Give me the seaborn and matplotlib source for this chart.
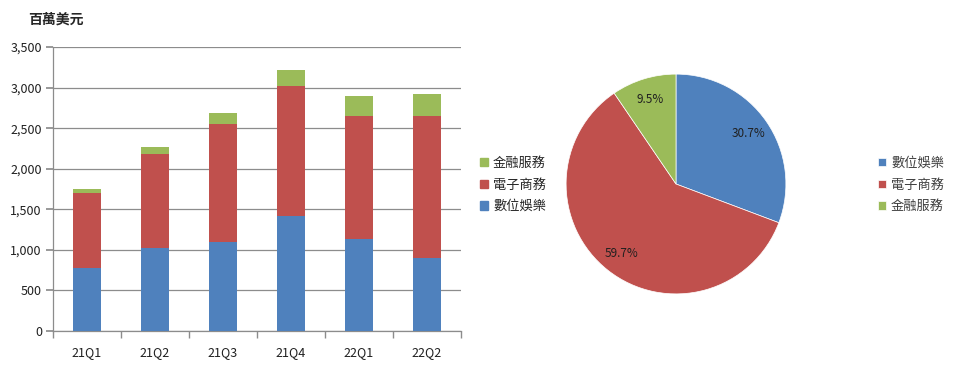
import matplotlib
matplotlib.use("Agg")
import matplotlib.pyplot as plt
import seaborn as sns
import numpy as np
import pandas as pd
from matplotlib.patches import Patch

quarters = ["21Q1", "21Q2", "21Q3", "21Q4", "22Q1", "22Q2"]
digital_ent = [780, 1027, 1101, 1421, 1138, 898]
ecommerce = [921, 1155, 1450, 1595, 1512, 1746]
fin_services = [49, 86, 132, 197, 242, 278]

pie_labels = ["數位娛樂", "電子商務", "金融服務"]
pie_values = [30.7, 59.7, 9.5]

unit_label = "百萬美元"
y_ticks = [0, 500, 1000, 1500, 2000, 2500, 3000, 3500]

sns.set_theme(style="white")
plt.rcParams["font.family"] = ["Noto Sans CJK TC", "DejaVu Sans"]

c_blue = "#4F81BD"
c_red = "#C0504D"
c_green = "#9BBB59"

df = pd.DataFrame({"q": quarters, "blue": digital_ent, "red": ecommerce, "green": fin_services})
df["lvl2"] = df["blue"] + df["red"]
df["lvl3"] = df["lvl2"] + df["green"]

W, H = 960, 365
fig = plt.figure(figsize=(W / 100, H / 100), dpi=100)

ax = fig.add_axes([53 / W, (H - 331) / H, 408 / W, 284 / H])
sns.barplot(data=df, x="q", y="lvl3", color=c_green, width=0.4, saturation=1, ax=ax, edgecolor="none", zorder=3)
sns.barplot(data=df, x="q", y="lvl2", color=c_red, width=0.4, saturation=1, ax=ax, edgecolor="none", zorder=3)
sns.barplot(data=df, x="q", y="blue", color=c_blue, width=0.4, saturation=1, ax=ax, edgecolor="none", zorder=3)

ax.set_ylim(0, 3500)
ax.set_xlim(-0.5, 5.5)
ax.set_yticks(y_ticks)
ax.set_yticklabels([f"{v:,}" for v in y_ticks], fontsize=9, color="#202020")
ax.set_xticks(range(len(quarters)))
ax.set_xticklabels(quarters, fontsize=9, color="#202020")
ax.set_xlabel("")
ax.set_ylabel("")
ax.grid(axis="y", color="#8c8c8c", linewidth=0.9, zorder=0)
ax.set_axisbelow(True)
for s in ["top", "right"]:
    ax.spines[s].set_visible(False)
for s in ["left", "bottom"]:
    ax.spines[s].set_color("#8c8c8c")
    ax.spines[s].set_linewidth(0.9)
ax.tick_params(axis="y", which="major", left=True, length=5, color="#8c8c8c", pad=3)
ax.tick_params(axis="x", which="major", bottom=False, pad=5)
ax.set_xticks(np.arange(-0.5, 6, 1), minor=True)
ax.tick_params(axis="x", which="minor", bottom=True, length=5, color="#8c8c8c")

fig.text(28 / W, 1 - 20 / H, unit_label, fontsize=10, fontweight="bold", va="center", ha="left")

bar_handles = [Patch(color=c_green), Patch(color=c_red), Patch(color=c_blue)]
fig.legend(bar_handles, ["金融服務", "電子商務", "數位娛樂"], loc="center left",
           bbox_to_anchor=(468 / W, 1 - 185 / H), frameon=False, fontsize=9.5,
           handlelength=0.6, handleheight=0.6, handletextpad=0.4, labelspacing=0.65)

pct_iter = iter(pie_values)
pax = fig.add_axes([565 / W, (H - 295) / H, 222 / W, 222 / H])
wedges, texts, autotexts = pax.pie(pie_values, colors=[c_blue, c_red, c_green], startangle=90,
                                   counterclock=False, autopct=lambda p: f"{next(pct_iter):.1f}%",
                                   pctdistance=0.8,
                                   wedgeprops=dict(edgecolor="white", linewidth=0.5),
                                   textprops=dict(fontsize=8.5, color="#202020"))
pax.set_xlim(-1.01, 1.01)
pax.set_ylim(-1.01, 1.01)
pax.set_aspect("equal")

fig.legend(wedges, pie_labels, loc="center left", bbox_to_anchor=(866 / W, 1 - 185 / H),
           frameon=False, fontsize=9.5, handlelength=0.6, handleheight=0.6,
           handletextpad=0.4, labelspacing=0.65, labelcolor="#404040")

fig.savefig("out.png", dpi=100, facecolor="white")
